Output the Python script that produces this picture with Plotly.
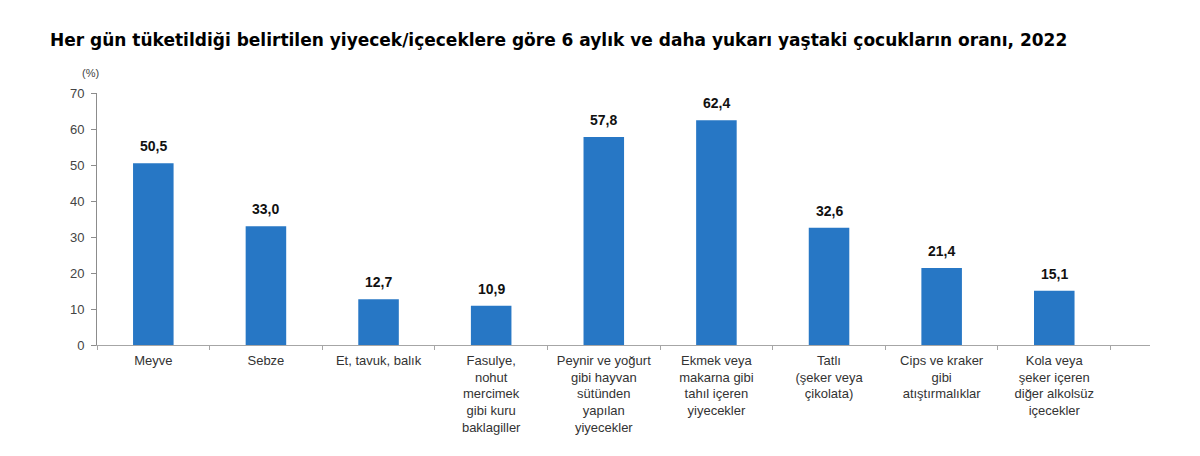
import plotly.graph_objects as go

# kategoriler (x ekseni etiketleri)
categories = [
    "Meyve",
    "Sebze",
    "Et, tavuk, balık",
    "Fasulye,<br>nohut<br>mercimek<br>gibi kuru<br>baklagiller",
    "Peynir ve yoğurt<br>gibi hayvan<br>sütünden<br>yapılan<br>yiyecekler",
    "Ekmek veya<br>makarna gibi<br>tahıl içeren<br>yiyecekler",
    "Tatlı<br>(şeker veya<br>çikolata)",
    "Cips ve kraker<br>gibi<br>atıştırmalıklar",
    "Kola veya<br>şeker içeren<br>diğer alkolsüz<br>içecekler",
]
values = [50.5, 33.0, 12.7, 10.9, 57.8, 62.4, 32.6, 21.4, 15.1]
y_ticks = [0, 10, 20, 30, 40, 50, 60, 70]

title = ("Her gün tüketildiği belirtilen yiyecek/içeceklere göre 6 aylık ve daha "
         "yukarı yaştaki çocukların oranı, 2022")

font = "Liberation Sans, Arial, sans-serif"

fig = go.Figure(go.Bar(
    x=categories,
    y=values,
    width=0.36,
    marker={"color": "#2777c5", "line": {"width": 0}},
    hoverinfo="x+y",
))

# değer etiketleri (barların üstünde)
labels = [
    dict(
        x=c, y=v, xref="x", yref="y",
        text="<b>" + f"{v:.1f}".replace(".", ",") + "</b>",
        showarrow=False, yanchor="bottom", yshift=7,
        font={"family": font, "size": 14, "color": "#111111"},
    )
    for c, v in zip(categories, values)
]
labels.append(dict(
    text="(%)",
    xref="paper", yref="paper",
    x=-7 / 1053, y=1 + 20 / 252,
    xanchor="center", yanchor="middle",
    showarrow=False,
    font={"family": font, "size": 11, "color": "#444444"},
))

fig.update_layout(
    width=1200,
    height=456,
    separators=",.",
    plot_bgcolor="white",
    paper_bgcolor="white",
    margin={"l": 89, "r": 58, "t": 85, "b": 119},
    showlegend=False,
    font={"family": font, "size": 12, "color": "#333333"},
    title={
        "text": "<b>" + title + "</b>",
        "x": 42 / 1200,
        "xanchor": "left",
        "y": 1 - 32 / 456,
        "yanchor": "middle",
        "font": {"family": "DejaVu Sans, sans-serif", "size": 17, "color": "#000000"},
    },
    annotations=labels,
)

fig.update_xaxes(
    type="category",
    range=[-0.5, 8.85],
    showline=True,
    linecolor="#a6a6a6",
    linewidth=1,
    ticks="outside",
    tickson="boundaries",
    ticklen=4,
    tickcolor="#a6a6a6",
    ticklabelstandoff=3,
    showgrid=False,
    zeroline=False,
    tickfont={"family": font, "size": 13, "color": "#333333"},
)

fig.update_yaxes(
    range=[0, 70],
    tickmode="array",
    tickvals=y_ticks,
    showline=True,
    linecolor="#8c8c8c",
    linewidth=1,
    ticks="outside",
    ticklen=5,
    tickcolor="#8c8c8c",
    ticklabelstandoff=4,
    showgrid=False,
    zeroline=False,
    tickfont={"family": font, "size": 13, "color": "#444444"},
)

fig.write_html("out.html")
